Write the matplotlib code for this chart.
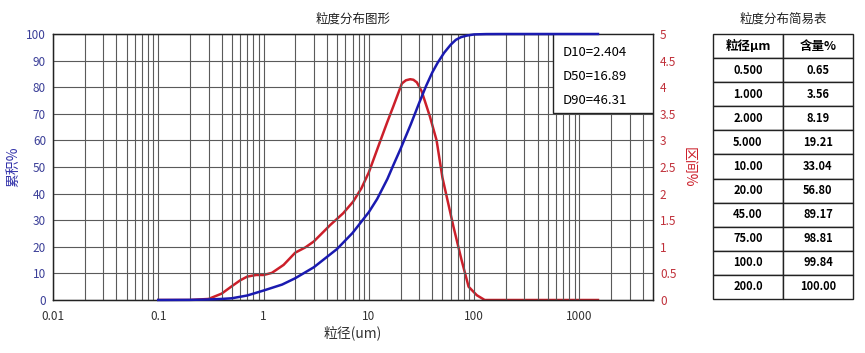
import numpy as np
import matplotlib
matplotlib.use('Agg')
import matplotlib.pyplot as plt
from matplotlib.patches import Rectangle
from matplotlib.ticker import FixedLocator, NullFormatter

plt.rcParams['font.family'] = ['Noto Sans CJK SC', 'DejaVu Sans']

# 累积分布 (蓝线)
cum_x = [0.1, 0.2, 0.3, 0.4, 0.5, 0.7, 1.0, 1.5, 2.0, 3.0, 5.0, 7.0, 10.0, 12.0,
         15.0, 17.0, 20.0, 25.0, 30.0, 35.0, 40.0, 45.0, 52.0, 60.0, 67.0, 75.0,
         85.0, 100.0, 130.0, 200.0, 1500.0]
cum_y = [0, 0.05, 0.2, 0.4, 0.65, 1.7, 3.56, 5.8, 8.19, 12.3, 19.21, 25.2, 33.04,
         38.0, 45.5, 50.5, 56.8, 66.0, 74.0, 80.5, 85.5, 89.17, 93.0, 96.0, 97.8,
         98.81, 99.4, 99.84, 99.97, 100, 100]

# 区间分布 (红线)
diff_x = [0.1, 0.2, 0.3, 0.4, 0.5, 0.6, 0.7, 0.85, 1.0, 1.2, 1.55, 2.0, 2.5, 3.0,
          4.3, 5.7, 7.1, 8.5, 10.0, 12.9, 15.0, 17.0, 20.6, 22.5, 24.7, 26.5,
          28.6, 31.8, 38.0, 44.0, 50.0, 63.6, 76.0, 88.6, 106.0, 126.0, 1500.0]
diff_y = [0, 0, 0.02, 0.12, 0.26, 0.37, 0.44, 0.47, 0.47, 0.51, 0.66, 0.89, 0.99,
          1.10, 1.41, 1.63, 1.85, 2.1, 2.4, 3.0, 3.35, 3.63, 4.07, 4.13, 4.15,
          4.14, 4.09, 3.92, 3.45, 3.0, 2.3, 1.38, 0.75, 0.25, 0.09, 0, 0]

# 简易表
tab_size = ['0.500', '1.000', '2.000', '5.000', '10.00', '20.00', '45.00', '75.00', '100.0', '200.0']
tab_pct = ['0.65', '3.56', '8.19', '19.21', '33.04', '56.80', '89.17', '98.81', '99.84', '100.00']

d_lines = ['D10=2.404', 'D50=16.89', 'D90=46.31']

blue = '#1a1ab0'
red = '#cc1f2a'
navy = '#3b3f98'
redtxt = '#c0303a'

fig = plt.figure(figsize=(8.65, 3.53), dpi=100)
ax = fig.add_axes([53/865, 53/353, 600/865, 266/353])
ax2 = ax.twinx()
ax.set_zorder(ax2.get_zorder() + 1)
ax.patch.set_visible(False)

ax.set_xscale('log')
ax.set_xlim(0.01, 5000)
ax.set_ylim(0, 100)
ax2.set_ylim(0, 5)

# 网格
minor = []
for d in [0.01, 0.1, 1, 10, 100, 1000]:
    for k in range(2, 10):
        if d * k < 5000:
            minor.append(d * k)
ax.xaxis.set_minor_locator(FixedLocator(minor))
ax.xaxis.set_minor_formatter(NullFormatter())
ax.set_xticks([0.01, 0.1, 1, 10, 100, 1000])
ax.set_xticklabels(['0.01', '0.1', '1', '10', '100', '1000'])
ax.set_yticks(np.arange(0, 101, 10))
ax.grid(True, which='both', axis='x', color='#5a5a5a', lw=0.8)
ax.grid(True, which='major', axis='y', color='#5a5a5a', lw=0.8)
ax.set_axisbelow(True)

ax2.set_yticks(np.arange(0, 5.01, 0.5))
ax2.set_yticklabels(['0', '0.5', '1', '1.5', '2', '2.5', '3', '3.5', '4', '4.5', '5'])

ax.tick_params(axis='both', which='both', length=0)
ax2.tick_params(axis='both', which='both', length=0)
ax.tick_params(axis='y', colors=navy, labelsize=8.5, pad=5)
ax.tick_params(axis='x', colors='#333333', labelsize=8.5, pad=7)
ax2.tick_params(axis='y', colors=redtxt, labelsize=8.5, pad=5)

for sp in ax.spines.values():
    sp.set_color('#222222')
    sp.set_linewidth(1.0)

ax2.plot(diff_x, diff_y, color=red, lw=1.8)
ax.plot(cum_x, cum_y, color=blue, lw=1.8, zorder=5, clip_on=False)

# D值框, 贴在右上角
ax.add_patch(Rectangle((0.833, 0.703), 0.167, 0.297, transform=ax.transAxes,
                       fc='white', ec='#222222', lw=1.0, zorder=4))
for i, s in enumerate(d_lines):
    ax.text(0.85, 0.93 - i * 0.09, s, transform=ax.transAxes, fontsize=9.5,
            va='center', ha='left', zorder=4.5)

ax.set_ylabel('累积%', color='#3333aa', fontsize=10, labelpad=4)
ax2.set_ylabel('区间%', color=red, fontsize=10, rotation=270, labelpad=14)
ax.set_xlabel('粒径(um)', color='#333333', fontsize=10, labelpad=2)
ax.set_title('粒度分布图形', fontsize=9, color='#222222', pad=8)

# 简易表
tax = fig.add_axes([713/865, 54/353, 140/865, 265/353])
tax.axis('off')
cells = [[s, p] for s, p in zip(tab_size, tab_pct)]
tb = tax.table(cellText=cells, colLabels=['粒径μm', '含量%'],
               cellLoc='center', bbox=[0, 0, 1, 1])
tb.auto_set_font_size(False)
for (r, c), cell in tb.get_celld().items():
    cell.set_edgecolor('#222222')
    cell.set_linewidth(1.0)
    cell.get_text().set_fontsize(8 if r > 0 else 9)
    cell.get_text().set_fontweight('bold')
tax.set_title('粒度分布简易表', fontsize=9, color='#222222', pad=8)

fig.savefig('out.png', dpi=100)
